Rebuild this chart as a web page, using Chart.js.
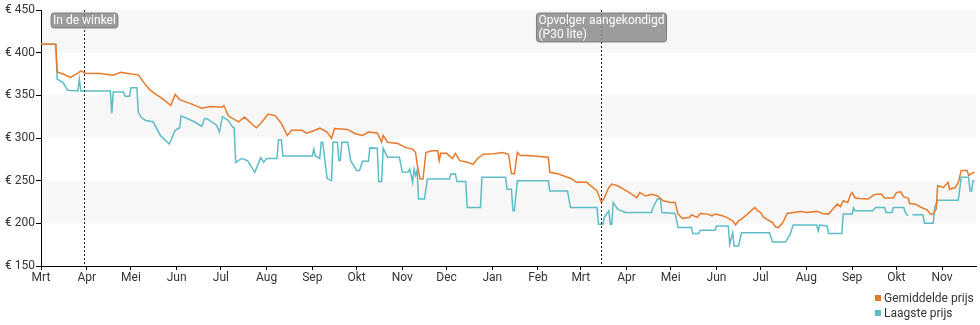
<!DOCTYPE html>
<html>
<head>
<meta charset="utf-8">
<script src="https://cdn.jsdelivr.net/npm/chart.js@4/dist/chart.umd.min.js"></script>
<style>
  body { margin: 0; background: #fff; font-family: Roboto, sans-serif; }
  #wrap { position: relative; width: 980px; height: 325px; }
  #legend { position: absolute; left: 875px; top: 291px; font-size: 12px; color: #333; }
  #legend .item { height: 15px; line-height: 15px; white-space: nowrap; }
  #legend .color-box { display: inline-block; width: 6px; height: 6px; margin-right: 3px; vertical-align: 1px; }
</style>
</head>
<body>
<div id="wrap">
  <canvas id="price_Chart" width="980" height="325"></canvas>
  <div id="legend"></div>
</div>
<script>
// days counted from 1 March (year 1)
const monthDays = [0, 31, 61, 92, 122, 153, 184, 214, 245, 275, 306, 337, 366, 397, 427, 458, 488, 519, 550, 580, 611];
const monthLabels = ['Mrt', 'Apr', 'Mei', 'Jun', 'Jul', 'Aug', 'Sep', 'Okt', 'Nov', 'Dec', 'Jan', 'Feb', 'Mrt', 'Apr', 'Mei', 'Jun', 'Jul', 'Aug', 'Sep', 'Okt', 'Nov'];
const priceTicks = [150, 200, 250, 300, 350, 400, 450];

const eventDays = [29, 380];
const eventLabels = [['In de winkel'], ['Opvolger aangekondigd', '(P30 lite)']];

const avgDays = [0, 10, 11, 15, 20, 25, 27, 30, 40, 49, 54, 61, 66, 71, 74, 79, 84, 88, 91, 94, 101, 109,
  115, 123, 124, 127, 134, 138, 144, 146, 149, 154, 159, 163, 167, 170, 177, 180, 184, 189, 194, 197, 199, 208, 213,
  218, 222, 228, 231, 232, 235, 242, 247, 252, 254, 255, 257, 259, 261, 265, 269, 270, 271, 275, 279, 281, 284, 289, 293, 296, 300, 307, 313, 317, 319,
  321, 323, 325, 330, 344, 345, 351, 360, 363, 370, 377, 380, 382, 385, 387, 391, 395, 399, 404, 406, 410, 414, 418, 422, 427,
  430, 432, 435, 440, 441, 445, 447, 452, 455, 457, 462, 465, 469, 471, 473, 475, 479, 482, 484, 486, 488, 490, 492, 496, 498, 500, 503, 506, 510, 515, 519, 526, 530,
  534, 537, 540, 542, 544, 547, 549, 550, 552, 555, 561, 564, 566, 570, 572, 578, 580, 583, 585, 588, 589, 593, 597, 601, 603, 605, 607, 608, 612, 615, 616, 620, 622, 624, 628, 629, 631, 633];
const avgPrices = [410, 410, 377.5, 375, 371, 376, 378.6, 376, 375.5, 373.5, 377, 375, 374, 362, 356, 350, 344, 338, 351, 345, 340.6, 335,
  337, 336, 338, 326, 319, 324.5, 315, 312, 317, 328, 326, 317, 303, 309, 309, 305.7, 308, 311.5, 307, 299.4, 311, 310, 305,
  303, 307, 306, 295, 303, 295, 293.5, 289, 287, 283, 270, 252, 252, 283, 285, 285, 273.5, 282, 282, 276, 282, 273.5, 271.6, 269, 276, 281, 281.6, 283, 281, 258,
  258, 283, 279.4, 279.4, 277.5, 259.8, 257.8, 252, 248, 248, 238, 224.5, 230, 242, 246, 244, 240, 236, 230, 236, 232, 234, 232, 226.5, 224.5,
  224.5, 210.8, 205.7, 207, 210, 207, 211.6, 210.8, 208.8, 210.8, 208.8, 207, 203, 198, 203, 205, 210.8, 215.5, 218.6, 214.7, 212.7, 207, 205, 201, 196, 195, 201, 211.6, 212.7, 214, 212.7, 214, 211.6,
  210.8, 216.7, 222.5, 219.4, 226.5, 224.5, 234, 236, 230, 229, 228.5, 232.4, 234, 234, 229.6, 229.6, 236, 237, 231, 229.6, 223.3, 222.5, 218.6, 215.5, 210.8, 210.8, 216.7, 244, 242, 248, 240, 242, 248, 261.8, 261.8, 256, 258.6, 259.8];

const lowDays = [0, 10, 11, 15, 18, 25, 26, 27, 47, 48, 49, 56, 57, 60, 61, 65, 66, 68, 71, 76, 81, 87, 91, 94, 95, 104,
  109, 111, 113, 119, 121, 123, 127, 130, 131, 132, 136, 140, 145, 149, 151, 153, 160, 161, 163, 164, 184, 185, 186, 189, 190, 191, 194, 197, 198, 201, 202, 203, 204, 208, 210, 214,
  216, 218, 222, 223, 228, 229, 231, 232, 235, 243, 245, 249, 250, 252, 253, 254, 255, 256, 260, 262, 277, 278, 281, 282, 288, 289, 298, 299, 315, 316, 319, 320,
  321, 323, 344, 345, 357, 359, 377, 378, 381, 382, 385, 386, 387, 388, 391, 396, 414, 415, 418, 420, 421,
  430, 432, 441, 442, 446, 447, 457, 458, 466, 467, 469, 470, 473, 475, 494, 496, 505, 506, 508, 510, 526, 527, 528,
  533, 534, 543, 544, 550, 551, 552, 564, 566, 572, 573, 577, 578, 585, 586, 588, 589, 591, 598, 599, 605, 606, 608, 622, 624, 629, 630, 631, 632, 633];
const lowPrices = [410, 410, 369, 365, 356, 355, 369, 355, 355, 329, 354, 354, 349, 349, 359, 359, 330, 324, 320.6, 319, 303, 293, 309, 312, 326, 319,
  313.5, 323, 322, 315, 307, 325, 320.6, 312.7, 312, 271.5, 276, 273.5, 259.8, 277, 271.6, 276, 276, 298, 298, 279, 279, 287, 279, 276, 295, 295, 252.4, 250, 295, 295, 273.5, 273.5, 295, 295, 273.5, 262,
  262, 272.7, 272.7, 288.4, 288, 249, 249, 288, 277.5, 277.5, 259.8, 260, 263.7, 248, 263.7, 256, 262, 228.5, 228.5, 252, 252, 257.8, 258, 249, 249, 218.6, 218.6, 254, 254, 240, 240, 214.7,
  214.7, 250, 250, 238, 238, 218.6, 218.6, 199, 199, 207, 214.7, 199, 199, 224.5, 216.7, 212.7, 212.7, 218.6, 228.5, 228.5, 212.7,
  211.6, 195, 195, 188, 188, 192, 192, 197, 197, 175.5, 189, 173.5, 173.5, 189, 189, 178.2, 178, 181.4, 187, 198, 198, 191, 198,
  197, 188, 188, 210.8, 210.8, 218, 214.7, 214.7, 218.6, 218.6, 212.7, 212.7, 218.6, 218.6, 212.7, 208.8, null, 210, 210, 200, 200, 218.6, 227, 227, 254, 254, 238, 238, 250, 250];

const bandRanges = [[400, 450], [300, 350], [200, 250]];

const toPoints = (days, prices) => days.map((d, i) => ({ x: d, y: prices[i] }));

const bandsPlugin = {
  id: 'bands',
  beforeDatasetsDraw(chart) {
    const { ctx, chartArea, scales } = chart;
    ctx.save();
    ctx.fillStyle = '#f7f7f7';
    bandRanges.forEach(([lo, hi]) => {
      const top = scales.y.getPixelForValue(hi);
      const bottom = scales.y.getPixelForValue(lo);
      ctx.fillRect(chartArea.left + 1, top, chartArea.right - chartArea.left - 1, bottom - top);
    });
    ctx.restore();
  }
};

const eventsPlugin = {
  id: 'events',
  afterDatasetsDraw(chart) {
    const { ctx, chartArea, scales } = chart;
    ctx.save();
    eventDays.forEach((day, i) => {
      const x = Math.round(scales.x.getPixelForValue(day)) + 0.5;
      ctx.strokeStyle = '#222';
      ctx.lineWidth = 1;
      ctx.setLineDash([2, 2]);
      ctx.beginPath();
      ctx.moveTo(x, chartArea.top);
      ctx.lineTo(x, chartArea.bottom);
      ctx.stroke();
      ctx.setLineDash([]);

      const lines = eventLabels[i];
      ctx.font = '12px Roboto';
      const w = Math.max(...lines.map(t => ctx.measureText(t).width)) + 4;
      const h = lines.length * 14 + 1;
      const left = x - w / 2;
      const top = chartArea.top + 3;
      ctx.fillStyle = 'rgba(140,140,140,0.85)';
      ctx.strokeStyle = 'rgba(120,120,120,0.9)';
      ctx.beginPath();
      ctx.roundRect(left, top, w, h, 3);
      ctx.fill();
      ctx.stroke();
      ctx.fillStyle = '#fff';
      ctx.textBaseline = 'middle';
      lines.forEach((t, j) => ctx.fillText(t, left + 2, top + 7.5 + j * 14));
    });
    ctx.restore();
  }
};

const ctx = document.getElementById('price_Chart').getContext('2d');

const data = {
  datasets: [{
    label: 'Gemiddelde prijs',
    data: toPoints(avgDays, avgPrices),
    borderColor: '#e8792b',
    backgroundColor: '#e8792b'
  }, {
    label: 'Laagste prijs',
    data: toPoints(lowDays, lowPrices),
    borderColor: '#5cbdc6',
    backgroundColor: '#5cbdc6'
  }]
};

const config = {
  type: 'line',
  data: data,
  options: {
    responsive: false,
    animation: false,
    layout: { padding: { top: 10, right: 4, bottom: 39, left: 0 } },
    elements: {
      line: { borderWidth: 1.5, tension: 0 },
      point: { radius: 0 }
    },
    scales: {
      x: {
        type: 'linear',
        min: 0,
        max: 634,
        afterBuildTicks: (axis) => { axis.ticks = monthDays.map(v => ({ value: v })); },
        afterFit: (axis) => { axis.height = 20; },
        ticks: {
          autoSkip: false,
          maxRotation: 0,
          padding: 1,
          color: '#333',
          font: { family: 'Roboto', size: 12 },
          callback: (value) => monthLabels[monthDays.indexOf(value)]
        },
        grid: { drawOnChartArea: false, tickLength: 4, color: '#000' },
        border: { color: '#000', width: 1 }
      },
      y: {
        min: 150,
        max: 450,
        afterBuildTicks: (axis) => { axis.ticks = priceTicks.map(v => ({ value: v })); },
        afterFit: (axis) => { axis.width = 41; },
        ticks: {
          padding: 1,
          color: '#333',
          font: { family: 'Roboto', size: 12 },
          callback: (value) => '€ ' + value
        },
        grid: { drawOnChartArea: false, tickLength: 5, color: '#000' },
        border: { color: '#000', width: 1 }
      }
    },
    plugins: {
      legend: { display: false },
      tooltip: { enabled: false }
    }
  },
  plugins: [bandsPlugin, eventsPlugin]
};

const priceChart = new Chart(ctx, config);

const legendContainer = document.getElementById('legend');
data.datasets.forEach((ds) => {
  const item = document.createElement('div');
  item.className = 'item';
  item.innerHTML = `<span class="color-box" style="background-color:${ds.borderColor}"></span>${ds.label}`;
  legendContainer.appendChild(item);
});
</script>
</body>
</html>
